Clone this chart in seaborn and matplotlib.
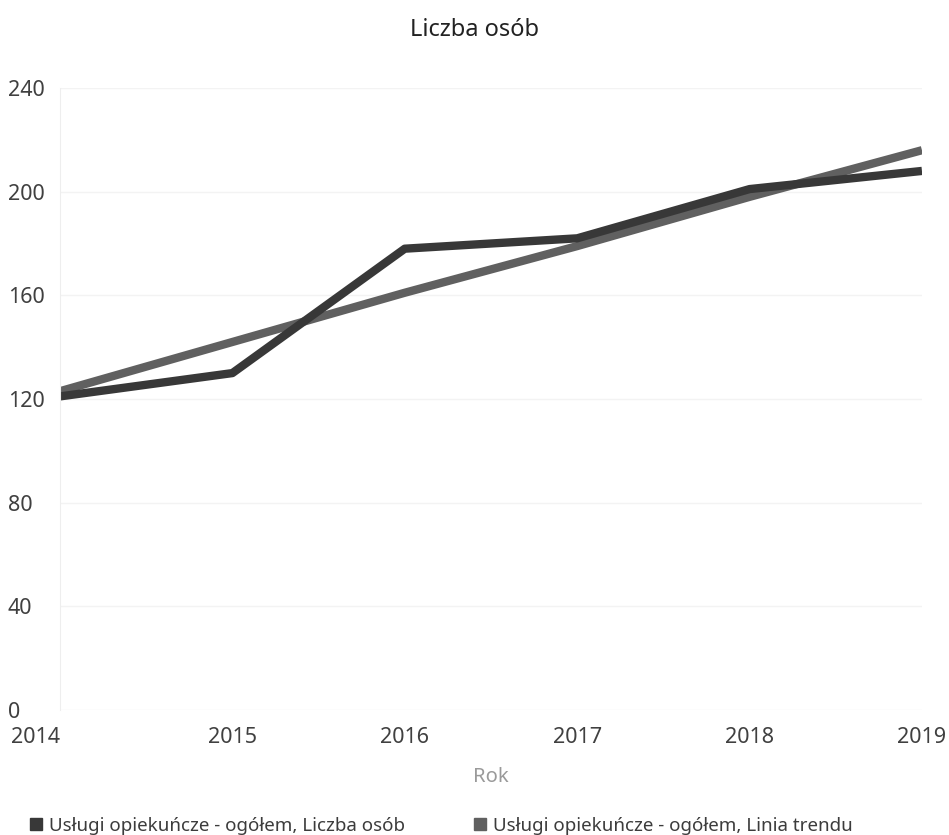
import pandas as pd
import seaborn as sns
import matplotlib.pyplot as plt
from matplotlib.lines import Line2D

# dane
lata = [2014, 2015, 2016, 2017, 2018, 2019]
liczba_osob = [121, 130, 178, 182, 201, 208]
linia_trendu = [123, 142, 161, 179, 198, 216]

serie = ["Usługi opiekuńcze - ogółem, Liczba osób",
         "Usługi opiekuńcze - ogółem, Linia trendu"]
kolory = ["#383838", "#606060"]

tabela = pd.DataFrame({
    "Rok": lata * 2,
    "Wartosc": liczba_osob + linia_trendu,
    "Seria": [serie[0]] * len(lata) + [serie[1]] * len(lata),
})

sns.set_style("white")
plt.rcParams["font.family"] = ["Noto Sans", "DejaVu Sans"]

fig = plt.figure(figsize=(9.49, 8.35), dpi=100)
ax = fig.add_axes([0.0632, 0.1497, 0.9083, 0.7449])

sns.lineplot(data=tabela, x="Rok", y="Wartosc", hue="Seria", hue_order=serie[::-1],
             palette=dict(zip(serie, kolory)), linewidth=6, legend=False, ax=ax,
             solid_capstyle="butt")

ax.set_xlim(2014, 2019)
ax.set_ylim(0, 240)
ax.set_yticks([0, 40, 80, 120, 160, 200, 240])
ax.set_xticks(lata)
ax.set_xticklabels([str(r) for r in lata])
ax.tick_params(axis="both", length=0, labelsize=15.5, labelcolor="#404040")
ax.tick_params(axis="x", pad=12)
ax.tick_params(axis="y", pad=37.5)
for t in ax.get_yticklabels():
    t.set_horizontalalignment("left")
ax.get_xticklabels()[0].set_horizontalalignment("right")

ax.grid(axis="y", color="#f3f3f3", linewidth=1)
ax.set_axisbelow(True)
for s in ["top", "right", "bottom"]:
    ax.spines[s].set_visible(False)
ax.spines["left"].set_color("#eeeeee")

ax.set_ylabel("")
ax.set_xlabel("Rok", fontsize=14.5, color="#9a9a9a", labelpad=14)
fig.suptitle("Liczba osób", y=0.978, fontsize=17, color="#222222")

uchwyty = [Line2D([], [], marker="s", linestyle="", color=k, markersize=8) for k in kolory]
fig.legend(uchwyty, serie, loc="lower left", bbox_to_anchor=(0.008, -0.02), ncol=2,
           frameon=False, fontsize=13.5, handletextpad=0.1, columnspacing=3.4,
           handlelength=1.2, labelcolor="#3c3c3c")

fig.savefig("out.png", dpi=100)
